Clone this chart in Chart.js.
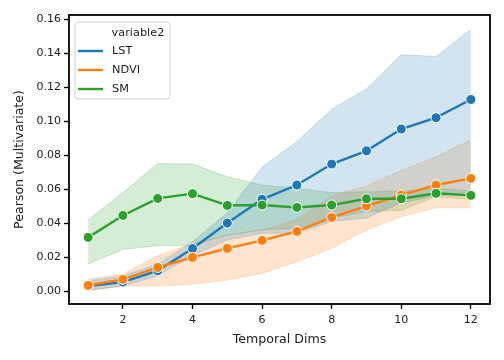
<!DOCTYPE html>
<html>
<head>
<meta charset="utf-8">
<script src="https://cdn.jsdelivr.net/npm/chart.js"></script>
<style>
  html, body { margin: 0; padding: 0; background: #fff; }
  #wrap { width: 504px; height: 360px; }
</style>
</head>
<body>
<div id="wrap"><canvas id="pearsonChart"></canvas></div>
<script>
// temporal dims on x
const dims = [1, 2, 3, 4, 5, 6, 7, 8, 9, 10, 11, 12];
const seriesNames = ['LST', 'NDVI', 'SM'];

// mean + confidence band
const lstMean = [0.003, 0.0053, 0.012, 0.025, 0.040, 0.054, 0.0624, 0.0747, 0.0825, 0.0953, 0.102, 0.1127];
const lstLow  = [0.0005, 0.003, 0.009, 0.021, 0.030, 0.034, 0.034, 0.041, 0.043, 0.052, 0.056, 0.058];
const lstHigh = [0.006, 0.009, 0.016, 0.029, 0.046, 0.073, 0.088, 0.107, 0.119, 0.139, 0.138, 0.154];

const ndviMean = [0.0034, 0.0069, 0.0139, 0.0198, 0.0251, 0.0298, 0.0351, 0.0433, 0.050, 0.0565, 0.0624, 0.0663];
const ndviLow  = [0.000, 0.003, 0.003, 0.004, 0.0065, 0.0104, 0.0173, 0.025, 0.036, 0.0437, 0.049, 0.049];
const ndviHigh = [0.007, 0.010, 0.021, 0.028, 0.033, 0.036, 0.042, 0.056, 0.062, 0.071, 0.079, 0.089];

const smMean = [0.0316, 0.0445, 0.0545, 0.0573, 0.0504, 0.0506, 0.0492, 0.0506, 0.0543, 0.0543, 0.0575, 0.0563];
const smLow  = [0.0159, 0.0245, 0.0267, 0.027, 0.033, 0.036, 0.037, 0.043, 0.0467, 0.0476, 0.0555, 0.054];
const smHigh = [0.042, 0.058, 0.0751, 0.0747, 0.0673, 0.0624, 0.0604, 0.058, 0.0584, 0.0588, 0.0604, 0.0590];

const xTicks = [2, 4, 6, 8, 10, 12];
const yTicks = [0, 0.02, 0.04, 0.06, 0.08, 0.10, 0.12, 0.14, 0.16];

const colors = { LST: '#1f77b4', NDVI: '#ff7f0e', SM: '#2ca02c' };
const bands = { LST: 'rgba(31,119,180,0.2)', NDVI: 'rgba(255,127,14,0.2)', SM: 'rgba(44,160,44,0.2)' };

const pts = arr => arr.map((v, i) => ({ x: dims[i], y: v }));

function lineSet(name, vals) {
    return {
        label: name,
        data: pts(vals),
        borderColor: colors[name],
        backgroundColor: colors[name],
        borderWidth: 2.4,
        pointRadius: 5,
        pointBorderColor: '#fff',
        pointBorderWidth: 1,
        pointBackgroundColor: colors[name],
        fill: false,
        tension: 0
    };
}
function bandSets(name, low, high) {
    return [
        { label: name + ' low', data: pts(low), borderColor: bands[name], borderWidth: 1, pointRadius: 0, fill: false },
        { label: name + ' high', data: pts(high), borderColor: bands[name], borderWidth: 1, pointRadius: 0,
          backgroundColor: bands[name], fill: '-1' }
    ];
}

const FONT = 'DejaVu Sans';

// black frame around the axes
const framePlugin = {
    id: 'frame',
    afterDraw(chart) {
        const a = chart.chartArea, ctx = chart.ctx;
        ctx.save();
        ctx.strokeStyle = '#000';
        ctx.lineWidth = 1.8;
        ctx.strokeRect(a.left, a.top, a.right - a.left, a.bottom - a.top);
        ctx.restore();
    }
};

// seaborn style legend inside the axes
const legendPlugin = {
    id: 'innerLegend',
    afterDraw(chart) {
        const a = chart.chartArea, ctx = chart.ctx;
        const x0 = a.left + 6, y0 = a.top + 7, w = 95, h = 77;
        ctx.save();
        ctx.fillStyle = 'rgba(255,255,255,0.8)';
        ctx.strokeStyle = '#d0d0d0';
        ctx.lineWidth = 1;
        ctx.beginPath();
        ctx.roundRect(x0, y0, w, h, 3);
        ctx.fill();
        ctx.stroke();
        ctx.font = '11.3px "' + FONT + '"';
        ctx.fillStyle = '#222';
        ctx.textBaseline = 'middle';
        ctx.textAlign = 'center';
        ctx.fillText('variable2', x0 + 63, y0 + 11);
        ctx.textAlign = 'left';
        seriesNames.forEach((n, i) => {
            const y = y0 + 29 + i * 19;
            ctx.strokeStyle = colors[n];
            ctx.lineWidth = 2.4;
            ctx.beginPath();
            ctx.moveTo(x0 + 3, y);
            ctx.lineTo(x0 + 28, y);
            ctx.stroke();
            ctx.fillText(n, x0 + 37, y);
        });
        ctx.restore();
    }
};

const canvas = document.getElementById('pearsonChart');

new Chart(canvas, {
    type: 'line',
    data: {
        datasets: [
            lineSet('SM', smMean),
            lineSet('NDVI', ndviMean),
            lineSet('LST', lstMean),
            ...bandSets('LST', lstLow, lstHigh),
            ...bandSets('NDVI', ndviLow, ndviHigh),
            ...bandSets('SM', smLow, smHigh)
        ]
    },
    options: {
        responsive: true,
        maintainAspectRatio: false,
        animation: false,
        layout: { padding: { left: 0, top: 15, right: 14, bottom: 0 } },
        plugins: {
            legend: { display: false },
            tooltip: { enabled: false }
        },
        scales: {
            x: {
                type: 'linear',
                min: 0.45,
                max: 12.55,
                afterFit(scale) { scale.height = 56; },
                afterBuildTicks(scale) { scale.ticks = xTicks.map(v => ({ value: v })); },
                grid: { drawOnChartArea: false, drawTicks: true, tickLength: 5, tickWidth: 1.4, tickColor: '#000' },
                border: { display: false },
                ticks: {
                    color: '#222',
                    font: { family: FONT, size: 11 },
                    padding: 5,
                    maxRotation: 0,
                    callback: v => String(v)
                },
                title: {
                    display: true,
                    text: 'Temporal Dims',
                    color: '#222',
                    font: { family: FONT, size: 12.6 },
                    padding: { top: 0, bottom: 13 }
                }
            },
            y: {
                type: 'linear',
                min: -0.0076,
                max: 0.1624,
                afterFit(scale) { scale.width = 69; },
                afterBuildTicks(scale) { scale.ticks = yTicks.map(v => ({ value: v })); },
                grid: { drawOnChartArea: false, drawTicks: true, tickLength: 5, tickWidth: 1.4, tickColor: '#000' },
                border: { display: false },
                ticks: {
                    color: '#222',
                    font: { family: FONT, size: 11 },
                    padding: 3,
                    callback: v => Number(v).toFixed(2)
                },
                title: {
                    display: true,
                    text: 'Pearson (Multivariate)',
                    color: '#222',
                    font: { family: FONT, size: 12.6 },
                    padding: { top: 12, bottom: 0 }
                }
            }
        }
    },
    plugins: [framePlugin, legendPlugin]
});
</script>
</body>
</html>
